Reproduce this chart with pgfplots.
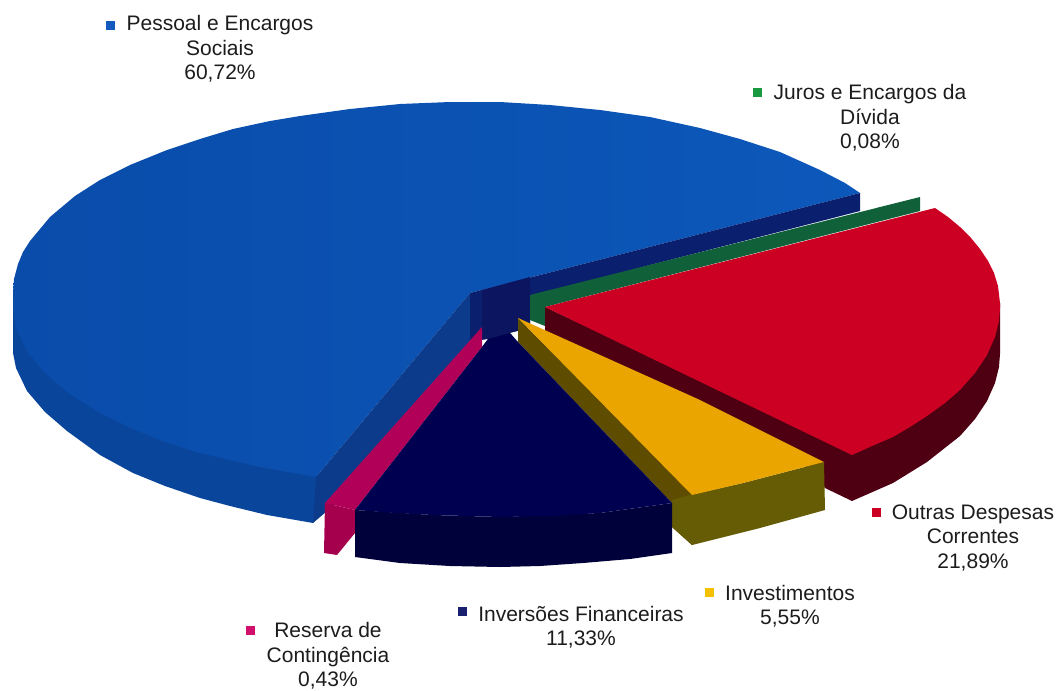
\documentclass[border=0pt]{standalone}
\usepackage{pgfplots}
\pgfplotsset{compat=1.18}
\usepackage{fontspec}
\setmainfont{Liberation Sans}
\definecolor{bluef}{HTML}{0A4CAA}
\definecolor{bluem}{HTML}{0A489F}
\definecolor{bluer}{HTML}{0C58BA}
\definecolor{blues}{HTML}{0A459C}
\definecolor{bluew}{HTML}{0C3B8C}
\definecolor{navyb}{HTML}{0A1F6E}
\definecolor{navyc}{HTML}{0B1560}
\definecolor{greenw}{HTML}{10603A}
\definecolor{redf}{HTML}{CC0022}
\definecolor{reds}{HTML}{4E0012}
\definecolor{yellowf}{HTML}{EBA500}
\definecolor{olive1}{HTML}{5E4C00}
\definecolor{olive2}{HTML}{655C05}
\definecolor{navyf}{HTML}{000050}
\definecolor{navys}{HTML}{00003A}
\definecolor{pinkf}{HTML}{B00058}
\definecolor{pinks}{HTML}{A4004E}
\definecolor{txt}{HTML}{1C1C1C}
\begin{document}
\begin{tikzpicture}
\useasboundingbox (0,0) rectangle (1061pt,691pt);
\begin{axis}[
  at={(0,0)}, anchor=south west,
  width=1061pt, height=691pt, scale only axis,
  xmin=0, xmax=1061, ymin=0, ymax=691, y dir=reverse,
  hide axis, clip=false,
  nodes={font=\fontsize{21}{24.3}\selectfont, text=txt, align=center, inner sep=0pt},
]
% blue side
\addplot[fill=blues, draw=none] coordinates {(13,300)(13,353)(16,368)(27,391)(45,412)(67,431)(100,455)(133,473)(165,486)(200,498)(230,506)(267,515)(313,523)(330,500)(316,470)(100,350)} -- cycle;
% blue face
\addplot[left color=bluef, middle color=bluem, right color=bluer, draw=none] coordinates {(470,293)(860,193)(845,183)(820,170)(780,152)(740,139)(700,128)(650,117)(600,110)(550,105)(500,102)(450,102)(400,104)(350,109)(300,116)(270,121)(233,129)(200,139)(167,150)(130,165)(100,180)(75,196)(50,217)(30,241)(23,252)(18,264)(14,279)(13,292)(13,307)(16,328)(27,351)(45,373)(67,392)(100,413)(133,429)(165,442)(200,453)(260,467)(316,477)} -- cycle;
% blue inner wall
\addplot[fill=bluew, draw=none] coordinates {(470,293)(316,477)(313,523)(340,500)(470,350)} -- cycle;
% back navy wall
\addplot[fill=navyb, draw=none] coordinates {(470,293)(860,193)(860,211)(530,296)(530,325)(490,345)(470,345)} -- cycle;
\addplot[fill=navyc, draw=none] coordinates {(482,290)(530,277)(530,325)(518,332)(482,348)} -- cycle;
% green wall
\addplot[fill=greenw, draw=none] coordinates {(530,295)(920,197)(920,211)(545,307)(545,326)(530,320)} -- cycle;
% white gaps
\addplot[fill=white, draw=none] coordinates {(510,333)(518,331)(518,342)} -- cycle;
\addplot[fill=white, draw=none] coordinates {(482,340)(488,339)(482,347)} -- cycle;
% red wall and side
\addplot[fill=reds, draw=none] coordinates {(545,307)(852,452)(1000,303)(1000,354)(999,367)(995,383)(987,401)(975,419)(960,436)(927,462)(893,483)(852,501)(825,488)(800,460)(700,410)(545,332)} -- cycle;
% red face
\addplot[fill=redf, draw=none] coordinates {(545,307)(935,208)(948,217)(960,227)(971,238)(980,249)(988,261)(994,273)(998,286)(1000,303)(1000,308)(999,321)(995,337)(987,355)(975,373)(960,390)(945,403)(927,416)(910,427)(893,437)(872,446)(852,455)} -- cycle;
% pink
\addplot[fill=pinks, draw=none] coordinates {(325,503)(355,510)(355,533)(337,555)(324,553)} -- cycle;
\addplot[fill=pinkf, draw=none] coordinates {(482,327)(325,503)(355,510)(482,347)} -- cycle;
% olive
\addplot[fill=olive1, draw=none] coordinates {(518,318)(694,495)(692,545)(672,527)(672,503)(518,342)} -- cycle;
\addplot[fill=olive2, draw=none] coordinates {(690,495)(743,483)(793,470)(824,462)(825,510)(760,528)(692,545)(672,527)(672,500)} -- cycle;
% yellow face
\addplot[fill=yellowf, draw=none] coordinates {(518,318)(700,400)(824,462)(793,470)(743,483)(692,495)} -- cycle;
% inversoes
\addplot[fill=navys, draw=none] coordinates {(355,510)(433,515)(500,517)(600,513)(672,503)(672,553)(630,559)(583,563)(540,566)(500,567)(450,566)(400,563)(355,557)} -- cycle;
\addplot[fill=navyf, draw=none] coordinates {(482,347)(488,339)(510,333)(518,342)(672,503)(636,508)(600,513)(550,516)(500,517)(433,515)(395,513)(355,510)} -- cycle;
% legend markers
\addplot[only marks, mark=square*, mark size=4pt, color={rgb,255:red,20;green,90;blue,190}] coordinates {(110,25)};
\addplot[only marks, mark=square*, mark size=4pt, color={rgb,255:red,26;green,154;blue,64}] coordinates {(757,92)};
\addplot[only marks, mark=square*, mark size=4pt, color=redf] coordinates {(876,512)};
\addplot[only marks, mark=square*, mark size=4pt, color={rgb,255:red,245;green,192;blue,0}] coordinates {(709,592)};
\addplot[only marks, mark=square*, mark size=4pt, color={rgb,255:red,26;green,32;blue,112}] coordinates {(462,611)};
\addplot[only marks, mark=square*, mark size=4pt, color={rgb,255:red,208;green,16;blue,106}] coordinates {(250,630)};
% labels
\node at (axis cs:220,49) {Pessoal e Encargos\\Sociais\\60,72\%};
\node at (axis cs:870,118) {Juros e Encargos da\\Dívida\\0,08\%};
\node at (axis cs:973,538) {Outras Despesas\\Correntes\\21,89\%};
\node at (axis cs:790,606) {Investimentos\\5,55\%};
\node at (axis cs:581,627) {Inversões Financeiras\\11,33\%};
\node at (axis cs:328,656) {Reserva de\\Contingência\\0,43\%};
\end{axis}
\end{tikzpicture}
\end{document}
